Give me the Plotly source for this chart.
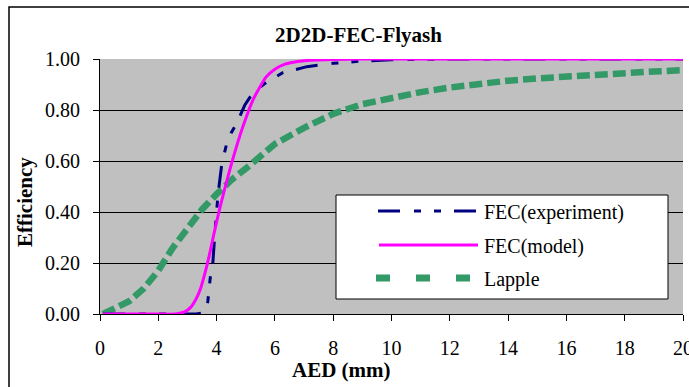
import plotly.graph_objects as go

# ---------------- data ----------------
aed_exp = [0.1, 1.0, 2.0, 2.7, 3.0, 3.3, 3.6, 3.7, 3.78, 3.87, 3.95, 4.05, 4.18, 4.35, 4.5, 4.7,
           4.97, 5.25, 5.72, 6.27, 7.1, 8.0, 9.0, 10.0, 12.0, 14.0, 16.0, 18.0, 20.0]
eff_exp = [0.0, 0.0, 0.0, 0.0, 0.0, 0.0, 0.005, 0.05, 0.14, 0.20, 0.33, 0.47, 0.59, 0.67, 0.71, 0.75,
           0.82, 0.868, 0.91, 0.946, 0.97, 0.983, 0.992, 0.997, 1.0, 1.0, 1.0, 1.0, 1.0]

aed_model = [0.1, 1.0, 2.0, 2.6, 2.9, 3.1, 3.3, 3.45, 3.6, 3.75, 3.9, 4.1, 4.3, 4.55, 4.9, 5.25,
             5.7, 6.0, 6.3, 7.0, 8.0, 9.0, 10.0, 12.0, 14.0, 16.0, 18.0, 20.0]
eff_model = [0.0, 0.0, 0.0, 0.0, 0.008, 0.025, 0.06, 0.10, 0.16, 0.23, 0.31, 0.41, 0.50, 0.605, 0.734, 0.84,
             0.93, 0.96, 0.978, 0.993, 0.998, 1.0, 1.0, 1.0, 1.0, 1.0, 1.0, 1.0]

aed_lapple = [0.1, 0.5, 1.0, 1.5, 2.0, 2.5, 3.0, 3.5, 4.0, 4.5, 5.0, 5.5, 6.0, 7.0, 8.0, 9.0,
              10.0, 11.0, 12.0, 13.0, 14.0, 15.0, 16.0, 17.0, 18.0, 19.0, 20.0]
eff_lapple = [0.0, 0.02, 0.05, 0.10, 0.17, 0.26, 0.34, 0.41, 0.47, 0.525, 0.57, 0.618, 0.667, 0.73, 0.785, 0.823,
              0.848, 0.87, 0.888, 0.903, 0.915, 0.924, 0.932, 0.94, 0.946, 0.951, 0.956]

x_ticks = [0, 2, 4, 6, 8, 10, 12, 14, 16, 18, 20]
y_ticks = [0.0, 0.2, 0.4, 0.6, 0.8, 1.0]

series_names = ["FEC(experiment)", "FEC(model)", "Lapple"]
colors = {"FEC(experiment)": "#000080", "FEC(model)": "#FF00FF", "Lapple": "#339966"}

# ---------------- layout geometry ----------------
W, H = 689, 387
ML, MR, MT, MB = 100, 6, 59, 73
PW, PH = W - ML - MR, H - MT - MB
FONT = '"Liberation Serif", "Times New Roman", Times, "DejaVu Serif", serif'

def px_x(px):
    return (px - ML) / PW

def px_y(py):
    return (H - MB - py) / PH

EXP_DASH = "22px,14px,7px,13px,7px,13px"

fig = go.Figure()
fig.add_trace(go.Scatter(x=aed_lapple, y=eff_lapple, mode="lines", name="Lapple",
                         line=dict(color=colors["Lapple"], width=6.5, dash="13px,5px"),
                         showlegend=False, hoverinfo="skip"))
fig.add_trace(go.Scatter(x=aed_exp, y=eff_exp, mode="lines", name="FEC(experiment)",
                         line=dict(color=colors["FEC(experiment)"], width=3, dash=EXP_DASH),
                         showlegend=False, hoverinfo="skip"))
fig.add_trace(go.Scatter(x=aed_model, y=eff_model, mode="lines", name="FEC(model)",
                         line=dict(color=colors["FEC(model)"], width=3, shape="spline", smoothing=0.6),
                         showlegend=False, hoverinfo="skip"))

shapes = []
# outer chart border (cropped at right / bottom)
shapes.append(dict(type="rect", xref="paper", yref="paper",
                   x0=px_x(9), x1=px_x(W + 20), y0=px_y(H + 20), y1=px_y(7),
                   line=dict(color="black", width=1.5), fillcolor="rgba(0,0,0,0)", layer="below"))

# custom legend box
lx0, lx1, ly0, ly1 = 336, 668, 195, 299
shapes.append(dict(type="rect", xref="paper", yref="paper",
                   x0=px_x(lx0), x1=px_x(lx1), y0=px_y(ly1), y1=px_y(ly0),
                   line=dict(color="black", width=1), fillcolor="white", layer="above"))
leg_rows = [
    ("FEC(experiment)", 378, 478, 211, 3, EXP_DASH),
    ("FEC(model)", 379, 478, 245, 3, "solid"),
    ("Lapple", 376, 470, 278, 7, "14px,26px"),
]
annotations = []
for name, sx0, sx1, sy, w, d in leg_rows:
    shapes.append(dict(type="line", xref="paper", yref="paper",
                       x0=px_x(sx0), x1=px_x(sx1), y0=px_y(sy), y1=px_y(sy),
                       line=dict(color=colors[name], width=w, dash=d), layer="above"))
    annotations.append(dict(text=name, xref="paper", yref="paper", x=px_x(482), y=px_y(sy + 1),
                            xanchor="left", yanchor="middle", showarrow=False,
                            font=dict(family=FONT, size=20, color="black")))

# axis titles
annotations.append(dict(text="<b>Efficiency</b>", xref="paper", yref="paper", x=px_x(25), y=px_y(202),
                        xanchor="center", yanchor="middle", textangle=-90, showarrow=False,
                        font=dict(family=FONT, size=21, color="black")))
annotations.append(dict(text="<b>AED (mm)</b>", xref="paper", yref="paper", x=px_x(341), y=px_y(370),
                        xanchor="center", yanchor="middle", showarrow=False,
                        font=dict(family=FONT, size=21, color="black")))

fig.update_layout(
    width=W, height=H, autosize=False,
    margin=dict(l=ML, r=MR, t=MT, b=MB, pad=0, autoexpand=False),
    paper_bgcolor="white", plot_bgcolor="#C0C0C0",
    showlegend=False,
    font=dict(family=FONT, color="black"),
    title=dict(text="<b>2D2D-FEC-Flyash</b>", x=358.5 / W, y=1 - 35 / H, xanchor="center", yanchor="middle",
               xref="container", yref="container",
               font=dict(family=FONT, size=21, color="black")),
    xaxis=dict(range=[0, 20], tickmode="array", tickvals=x_ticks, ticktext=[str(v) for v in x_ticks],
               ticks="outside", ticklen=6, tickwidth=1, tickcolor="black",
               showline=True, linecolor="black", linewidth=1, showgrid=False, zeroline=False,
               tickfont=dict(family=FONT, size=20, color="black"), ticklabelstandoff=10,
               ticklabeloverflow="allow", automargin=False),
    yaxis=dict(range=[0, 1.0], tickmode="array", tickvals=y_ticks, ticktext=[f"{v:.2f}" for v in y_ticks],
               ticks="outside", ticklen=6, tickwidth=1, tickcolor="black",
               showline=True, linecolor="black", linewidth=1, showgrid=True, gridcolor="black",
               gridwidth=1, zeroline=False,
               tickfont=dict(family=FONT, size=20, color="black"), ticklabelstandoff=9,
               ticklabeloverflow="allow", automargin=False),
    xaxis2=dict(overlaying="x", anchor="y", side="top", range=[0, 20], showline=True,
                linecolor="#808080", linewidth=2.5, showticklabels=False, ticks="",
                showgrid=False, zeroline=False, automargin=False),
    yaxis2=dict(overlaying="y", anchor="x", side="right", range=[0, 1.0], showline=True,
                linecolor="#808080", linewidth=2.5, showticklabels=False, ticks="",
                showgrid=False, zeroline=False, automargin=False),
    shapes=shapes,
    annotations=annotations,
)

fig.write_html("out.html")
